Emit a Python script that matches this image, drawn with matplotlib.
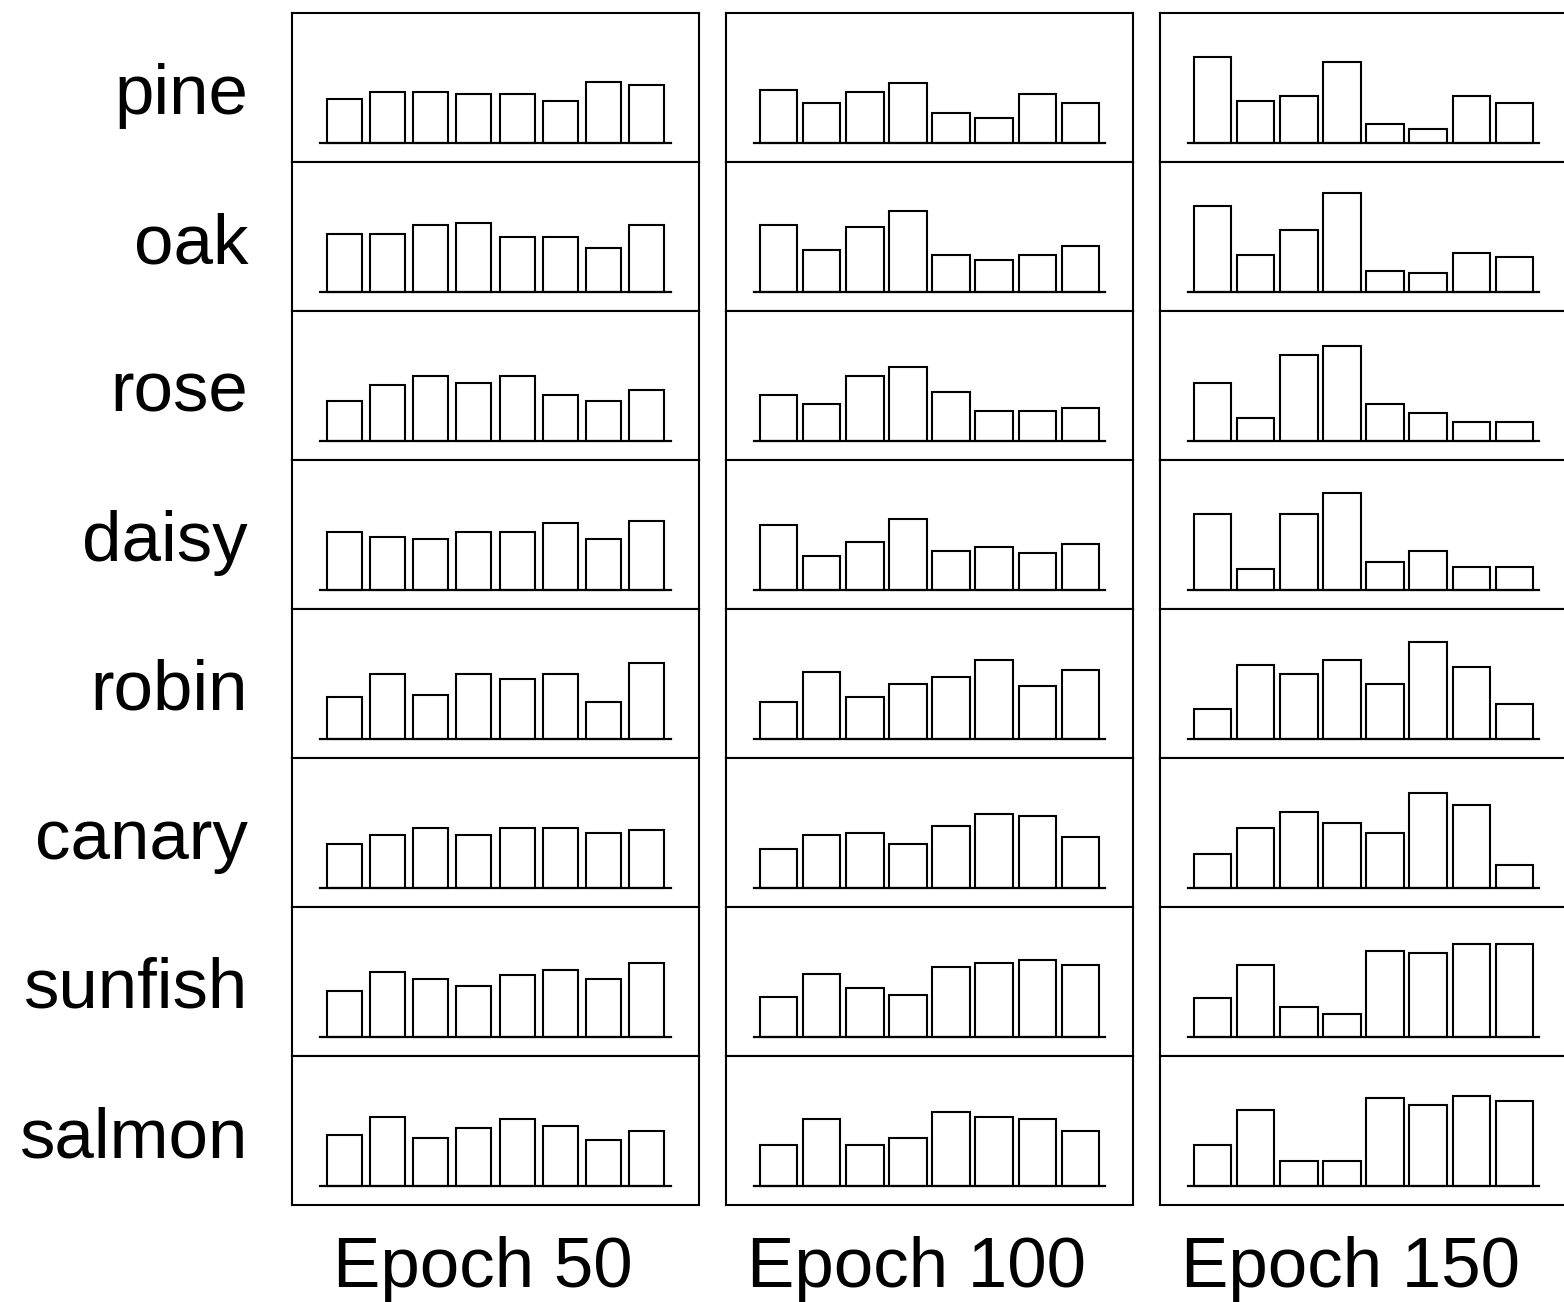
import numpy as np
import matplotlib.pyplot as plt

plt.rcParams['font.family'] = ['Liberation Sans', 'DejaVu Sans']

items = ["pine", "oak", "rose", "daisy", "robin", "canary", "sunfish", "salmon"]
epochs = ["Epoch 50", "Epoch 100", "Epoch 150"]

# activation of the 8 hidden units for each item
epoch50 = [
    [0.44, 0.51, 0.51, 0.49, 0.49, 0.42, 0.61, 0.58],
    [0.58, 0.58, 0.67, 0.69, 0.55, 0.55, 0.44, 0.67],
    [0.40, 0.56, 0.65, 0.58, 0.65, 0.46, 0.40, 0.51],
    [0.58, 0.53, 0.51, 0.58, 0.58, 0.67, 0.51, 0.69],
    [0.42, 0.65, 0.44, 0.65, 0.60, 0.65, 0.37, 0.76],
    [0.44, 0.53, 0.60, 0.53, 0.60, 0.60, 0.55, 0.58],
    [0.46, 0.65, 0.58, 0.51, 0.62, 0.67, 0.58, 0.74],
    [0.51, 0.69, 0.48, 0.58, 0.67, 0.60, 0.46, 0.55],
]
epoch100 = [
    [0.53, 0.40, 0.51, 0.60, 0.30, 0.25, 0.49, 0.40],
    [0.67, 0.42, 0.65, 0.81, 0.37, 0.32, 0.37, 0.46],
    [0.46, 0.37, 0.65, 0.74, 0.49, 0.30, 0.30, 0.33],
    [0.65, 0.34, 0.48, 0.71, 0.39, 0.43, 0.37, 0.46],
    [0.37, 0.67, 0.42, 0.55, 0.62, 0.79, 0.53, 0.69],
    [0.39, 0.53, 0.55, 0.44, 0.62, 0.74, 0.72, 0.51],
    [0.40, 0.63, 0.49, 0.42, 0.70, 0.74, 0.77, 0.72],
    [0.41, 0.67, 0.41, 0.48, 0.74, 0.69, 0.67, 0.55],
]
epoch150 = [
    [0.86, 0.42, 0.47, 0.81, 0.19, 0.14, 0.47, 0.40],
    [0.86, 0.37, 0.62, 0.99, 0.21, 0.19, 0.39, 0.35],
    [0.58, 0.23, 0.86, 0.95, 0.37, 0.28, 0.19, 0.19],
    [0.76, 0.21, 0.76, 0.97, 0.28, 0.39, 0.23, 0.23],
    [0.30, 0.74, 0.65, 0.79, 0.55, 0.97, 0.72, 0.35],
    [0.34, 0.60, 0.76, 0.65, 0.55, 0.95, 0.83, 0.23],
    [0.39, 0.72, 0.30, 0.23, 0.86, 0.84, 0.93, 0.93],
    [0.41, 0.76, 0.25, 0.25, 0.88, 0.81, 0.90, 0.85],
]
data = [epoch50, epoch100, epoch150]

W, H = 1564., 1302.
fig = plt.figure(figsize=(W / 100, H / 100), dpi=100)

col_left = [292, 726, 1160]
panel_w = 407
panel_h = 149
top = 13
bar_w = [0.81, 0.87, 0.87]
x = np.arange(8)

for c in range(3):
    for r in range(8):
        bottom = H - top - panel_h * (r + 1)
        ax = fig.add_axes([col_left[c] / W, bottom / H, panel_w / W, panel_h / H])
        ax.bar(x, data[c][r], width=bar_w[c], facecolor='white',
               edgecolor='black', linewidth=1.5)
        ax.plot([-0.58, 7.58], [0, 0], color='black', lw=1.6)
        ax.set_xlim(-1.22, 8.22)
        ax.set_ylim(-0.19, 1.30)
        ax.set_xticks([])
        ax.set_yticks([])
        for s in ax.spines.values():
            s.set_linewidth(1.5)

        if c == 0:
            fig.text(248 / W, (bottom + 48) / H, items[r], ha='right',
                     va='baseline', fontsize=51)
    fig.text((col_left[c] + panel_w / 2 - 13) / W, 15 / H, epochs[c],
             ha='center', va='baseline', fontsize=51)

fig.savefig("out.png", dpi=100)
